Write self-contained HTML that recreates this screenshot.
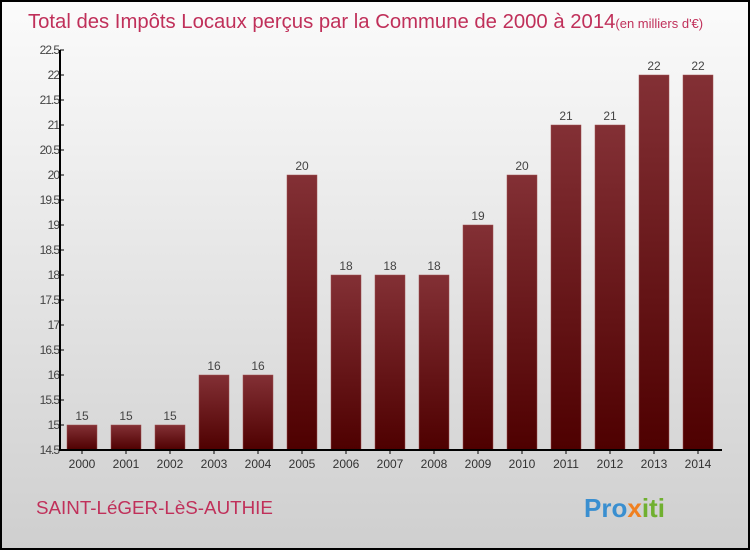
<!DOCTYPE html>
<html><head><meta charset="utf-8"><style>
body{margin:0}
#c{position:relative;width:746px;height:546px;border:2px solid #000;background:linear-gradient(#fbfbfb,#cfcfcf);font-family:"Liberation Sans",sans-serif;overflow:hidden}
</style></head><body>
<div id="c">
<svg id="s" width="746" height="546" style="position:absolute;left:0;top:0">
<text x="26" y="26" font-size="20.3" fill="#c0305a">Total des Impôts Locaux perçus par la Commune de 2000 à 2014<tspan font-size="13">(en milliers d'€)</tspan></text>
<text x="34" y="512" font-size="18.8" fill="#c0305a">SAINT-LéGER-LèS-AUTHIE</text>
<text x="582" y="515" font-size="26" font-weight="bold"><tspan fill="#3a8fd0">Pro</tspan><tspan fill="#f08020">x</tspan><tspan fill="#70b030">iti</tspan></text>
<g id="g"></g>
</svg>
</div>
<script>
const years=["2000","2001","2002","2003","2004","2005","2006","2007","2008","2009","2010","2011","2012","2013","2014"];
const values=[15,15,15,16,16,20,18,18,18,19,20,21,21,22,22];
const yTicks=[14.5,15,15.5,16,16.5,17,17.5,18,18.5,19,19.5,20,20.5,21,21.5,22,22.5];
const NS="http://www.w3.org/2000/svg";
const g=document.getElementById('g');
const y=v=>448-(v-14.5)*50;
const x=i=>80+i*44;
function mk(t,a){const e=document.createElementNS(NS,t);for(const k in a)e.setAttribute(k,a[k]);g.appendChild(e);return e;}
const defs=mk('defs',{});
defs.innerHTML='<linearGradient id="bg" x1="0" y1="0" x2="0" y2="1"><stop offset="0" stop-color="#833035"/><stop offset="1" stop-color="#4e0000"/></linearGradient>';
years.forEach((yr,i)=>{
 const r=mk('rect',{x:x(i)-15,y:y(values[i]),width:30,height:448-y(values[i]),fill:'url(#bg)',stroke:'#a05050','stroke-width':0.5});
 
 
 const t=mk('text',{x:x(i),y:y(values[i])-5,'text-anchor':'middle','font-size':12,fill:'#444'});
 t.textContent=values[i];
 
 
 const xl=mk('text',{x:x(i),y:466,'text-anchor':'middle','font-size':12,fill:'#333'});
 xl.textContent=yr;
 
 
 mk('line',{x1:x(i),x2:x(i),y1:448,y2:452,stroke:'#000'});
});
yTicks.forEach(v=>{
 mk('line',{x1:58,x2:62,y1:y(v),y2:y(v),stroke:'#000'});
 const t=mk('text',{x:57,y:y(v)+4,'text-anchor':'end','font-size':12,fill:'#444','letter-spacing':'-1'});
 t.textContent=v;
 
 
});
const ya=mk('line',{x1:58,x2:58,y1:48,y2:449,stroke:'#000','stroke-width':2});


const xa=mk('line',{x1:58,x2:720,y1:448,y2:448,stroke:'#000','stroke-width':2});


</script>
</body></html>
